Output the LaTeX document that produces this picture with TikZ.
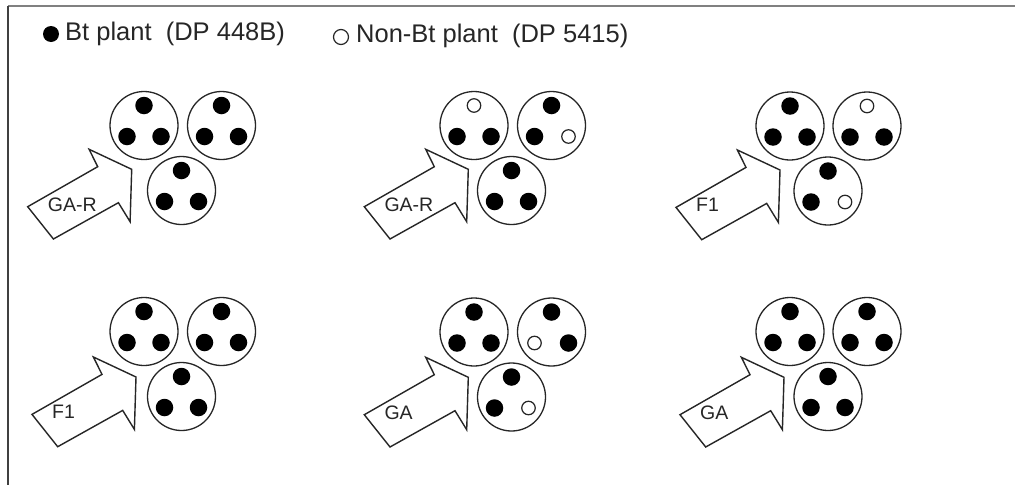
\documentclass[tikz,border=0pt]{standalone}
\usepackage{fontspec}
\setmainfont{Liberation Sans}
\usetikzlibrary{calc}
\tikzset{
  potc/.style={circle,draw=black!85,line width=1.3pt,minimum size=68pt,inner sep=0pt},
  bt/.style={circle,fill=black,minimum size=17.5pt,inner sep=0pt},
  nonbt/.style={circle,draw=black!85,fill=white,line width=1.2pt,minimum size=13.5pt,inner sep=0pt},
  blockarrow/.style={draw=black!85,line width=1.4pt,line join=miter,fill=white},
  arrowlabel/.style={anchor=west,inner sep=0pt,text=black!85,font=\fontsize{19.5}{23}\selectfont},
  legendtext/.style={anchor=west,inner sep=0pt,text=black!85,font=\fontsize{25.5}{30}\selectfont},
}
\newcommand{\pot}[5]{%
  \node[potc] (#1) at (#2) {};
  \node[#3] (#1t) at ($(#1)+(0,-20)$) {};
  \node[#4] (#1l) at ($(#1)+(-17,11)$) {};
  \node[#5] (#1r) at ($(#1)+(17,11)$) {};
}
\newcommand{\garrow}[3]{%
  \begin{scope}[shift={(#2)}]
    \coordinate (#1) at (0,0);
    \draw[blockarrow] (-104,37.4) -- (-34,-2.6) -- (-42.6,-20) -- (#1)
      -- (-1.6,52.4) -- (-13.3,33.4) -- (-78.3,69.7) -- cycle;
    \node[arrowlabel] (#1lab) at (-84,35) {#3};
  \end{scope}
}
\begin{document}
\begin{tikzpicture}[x=1pt,y=-1pt]
\useasboundingbox (0,0) rectangle (1015,485);
\fill[white] (0,0) rectangle (1015,485);
% frame
\coordinate (f0) at (8,6);
\coordinate (f1) at (1015,6);
\coordinate (f2) at (8,485);
\draw[line width=2pt,gray] (f0) -- (f1);
\draw[line width=2pt,black!75] (f0) -- (f2);
% legend
\node[bt,minimum size=16pt] (legbt) at (51,34) {};
\node[legendtext] (legbttext) at (65,34) {Bt plant\ \ (DP 448B)};
\node[circle,draw=black!85,line width=1.2pt,minimum size=15pt,inner sep=0pt] (legnon) at (341,37) {};
\node[legendtext] (legnontext) at (356,36) {Non-Bt plant\ \ (DP 5415)};
% group 1
\garrow{a1}{131.7,169.3}{GA-R}
\pot{g1a}{144,125.5}{bt}{bt}{bt}
\pot{g1b}{221.5,125.5}{bt}{bt}{bt}
\pot{g1c}{181.5,190.5}{bt}{bt}{bt}
% group 2
\garrow{a2}{468.3,169.3}{GA-R}
\pot{g2a}{474,125.5}{nonbt}{bt}{bt}
\pot{g2b}{551.5,125.5}{bt}{bt}{nonbt}
\pot{g2c}{511.5,190.5}{bt}{bt}{bt}
% group 3
\garrow{a3}{780,170}{F1}
\pot{g3a}{790,126}{bt}{bt}{bt}
\pot{g3b}{867,126}{nonbt}{bt}{bt}
\pot{g3c}{828,191}{bt}{bt}{nonbt}
% group 4
\garrow{a4}{136,377}{F1}
\pot{g4a}{144,331.5}{bt}{bt}{bt}
\pot{g4b}{221.5,331.5}{bt}{bt}{bt}
\pot{g4c}{181.5,396.5}{bt}{bt}{bt}
% group 5
\garrow{a5}{468.3,377.3}{GA}
\pot{g5a}{474,332}{bt}{bt}{bt}
\pot{g5b}{551.5,332}{bt}{nonbt}{bt}
\pot{g5c}{511.5,397}{bt}{bt}{nonbt}
% group 6
\garrow{a6}{784,377.3}{GA}
\pot{g6a}{790,331.5}{bt}{bt}{bt}
\pot{g6b}{867,331.5}{bt}{bt}{bt}
\pot{g6c}{828,396.5}{bt}{bt}{bt}
\end{tikzpicture}
\end{document}
